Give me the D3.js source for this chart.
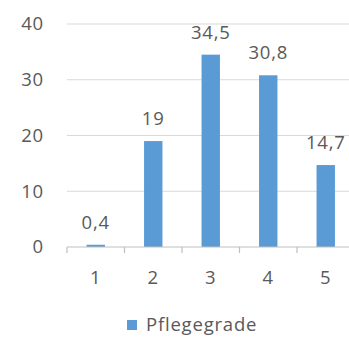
<!DOCTYPE html>
<html>
<head>
<meta charset="utf-8">
<script src="https://cdn.jsdelivr.net/npm/d3@7"></script>
<style>
  html, body { margin: 0; padding: 0; background: #fff; }
  svg { display: block; }
  text { font-family: "Open Sans", sans-serif; fill: #595959; font-size: 18.5px; letter-spacing: 0.8px; }
</style>
</head>
<body>
<svg id="chart" width="349" height="337"></svg>
<script>
// Share of people per care grade (Pflegegrad), in percent
const categories = ["1", "2", "3", "4", "5"];
const values = [0.4, 19, 34.5, 30.8, 14.7];
const valueLabels = ["0,4", "19", "34,5", "30,8", "14,7"];
const yTicks = [0, 10, 20, 30, 40];
const seriesName = "Pflegegrade";

const svg = d3.select("#chart");
const W = 349;

const x = d3.scaleBand()
  .domain(categories)
  .range([67, 354.5])
  .paddingInner(0.68)
  .paddingOuter(0.34);

const y = d3.scaleLinear()
  .domain([0, 40])
  .range([247, 24]);

// horizontal gridlines
svg.append("g")
  .selectAll("line")
  .data(yTicks.filter(d => d > 0))
  .join("line")
  .attr("x1", 67)
  .attr("x2", W)
  .attr("y1", d => y(d))
  .attr("y2", d => y(d))
  .attr("stroke", "#d9d9d9")
  .attr("stroke-width", 1.2);

// y axis labels
svg.append("g")
  .selectAll("text")
  .data(yTicks)
  .join("text")
  .attr("x", 44)
  .attr("y", d => y(d))
  .attr("dy", "0.35em")
  .attr("text-anchor", "end")
  .text(d => d);

// bars
svg.append("g")
  .selectAll("rect")
  .data(values)
  .join("rect")
  .attr("x", (d, i) => x(categories[i]))
  .attr("width", x.bandwidth())
  .attr("y", d => y(d))
  .attr("height", d => y(0) - y(d))
  .attr("fill", "#5b9bd5");

// x axis baseline and tick marks at band boundaries
const xAxis = svg.append("g");
xAxis.append("line")
  .attr("x1", 67).attr("x2", W)
  .attr("y1", y(0)).attr("y2", y(0))
  .attr("stroke", "#bfbfbf").attr("stroke-width", 1.2);
const step = x.step();
xAxis.selectAll("line.tick")
  .data(d3.range(categories.length + 1))
  .join("line")
  .attr("class", "tick")
  .attr("x1", i => 67 + i * step)
  .attr("x2", i => 67 + i * step)
  .attr("y1", y(0))
  .attr("y2", y(0) + 6)
  .attr("stroke", "#bfbfbf").attr("stroke-width", 1.2);

// category labels
xAxis.selectAll("text")
  .data(categories)
  .join("text")
  .attr("x", d => x(d) + x.bandwidth() / 2)
  .attr("y", 284)
  .attr("text-anchor", "middle")
  .text(d => d);

// value labels above bars
svg.append("g")
  .selectAll("text")
  .data(values)
  .join("text")
  .attr("x", (d, i) => x(categories[i]) + x.bandwidth() / 2)
  .attr("y", d => y(d) - 16)
  .attr("text-anchor", "middle")
  .text((d, i) => valueLabels[i]);

// legend
const legend = svg.append("g");
legend.append("rect")
  .attr("x", 127).attr("y", 320)
  .attr("width", 10).attr("height", 10)
  .attr("fill", "#5b9bd5");
legend.append("text")
  .attr("x", 146)
  .attr("y", 331)
  .text(seriesName);
</script>
</body>
</html>
